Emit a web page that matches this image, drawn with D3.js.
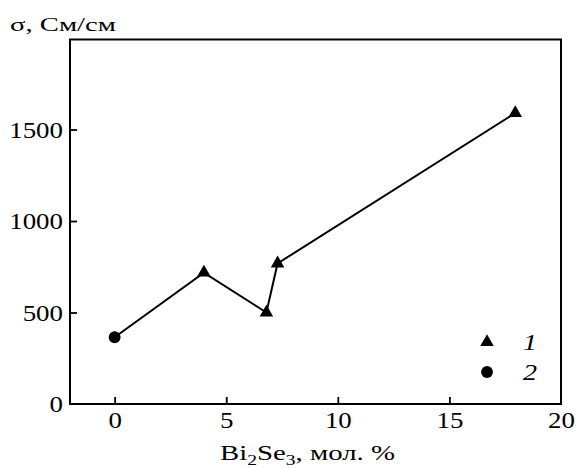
<!DOCTYPE html>
<html>
<head>
<meta charset="utf-8">
<script src="https://cdn.jsdelivr.net/npm/d3@7"></script>
</head>
<body style="margin:0;background:#fff">
<svg id="chart" width="579" height="468"></svg>
<script>
// Conductivity vs Bi2Se3 content
const xTicks = [0, 5, 10, 15, 20];
const yTicks = [0, 500, 1000, 1500];
const series1X = [4.0, 6.8, 7.3, 17.95];     // triangles
const series1Y = [718, 500, 768, 1590];
const series2X = [0];                        // circle
const series2Y = [365];
const legendLabels = ["1", "2"];

const FONT = "Liberation Serif";
const STRETCH = 1.17;                        // wide-set serif lettering
const svg = d3.select("#chart");
const margin = { left: 70, right: 18, top: 39.5, bottom: 64 };
const W = 579, H = 468;

const x = d3.scaleLinear().domain([-2, 20]).range([margin.left, W - margin.right]);
const y = d3.scaleLinear().domain([0, 1992]).range([H - margin.bottom, margin.top]);

// frame
svg.append("rect")
  .attr("x", x(-2)).attr("y", y(1992))
  .attr("width", x(20) - x(-2)).attr("height", y(0) - y(1992))
  .attr("fill", "none").attr("stroke", "#000").attr("stroke-width", 2);

// axes with inward ticks
const xAxis = d3.axisBottom(x).tickValues(xTicks).tickSize(-7).tickFormat(d3.format("d"));
const gx = svg.append("g").attr("transform", `translate(0,${y(0)})`).call(xAxis)
  .attr("font-family", FONT).attr("font-size", 23);
gx.select(".domain").remove();
gx.selectAll(".tick line").attr("stroke", "#000").attr("stroke-width", 1.8);
gx.selectAll(".tick").filter(d => d === 20).select("line").remove();
gx.selectAll("text")
  .attr("fill", "#000").attr("font-family", FONT)
  .attr("y", 24).attr("dy", null)
  .attr("transform", `scale(${STRETCH},1)`);

const yAxis = d3.axisLeft(y).tickValues(yTicks).tickSize(-7).tickFormat(d3.format("d"));
const gy = svg.append("g").attr("transform", `translate(${x(-2)},0)`).call(yAxis)
  .attr("font-family", FONT).attr("font-size", 23);
gy.select(".domain").remove();
gy.selectAll(".tick line").attr("stroke", "#000").attr("stroke-width", 1.8);
gy.selectAll(".tick").filter(d => d === 0).select("line").remove();
gy.selectAll("text")
  .attr("fill", "#000").attr("font-family", FONT)
  .attr("x", -7 / STRETCH).attr("dy", "0.33em")
  .attr("transform", `scale(${STRETCH},1)`);

// connecting line: circle point then triangle series
const linePts = series2X.map((d, i) => [d, series2Y[i]])
  .concat(series1X.map((d, i) => [d, series1Y[i]]));
svg.append("path")
  .datum(linePts)
  .attr("d", d3.line().x(d => x(d[0])).y(d => y(d[1])))
  .attr("fill", "none").attr("stroke", "#000").attr("stroke-width", 2);

const tri = d3.symbol().type(d3.symbolTriangle).size(80);
const circ = d3.symbol().type(d3.symbolCircle).size(110);

svg.append("g").selectAll("path")
  .data(series1X.map((d, i) => [d, series1Y[i]]))
  .join("path")
  .attr("d", tri)
  .attr("transform", d => `translate(${x(d[0])},${y(d[1])})`)
  .attr("fill", "#000");

svg.append("g").selectAll("path")
  .data(series2X.map((d, i) => [d, series2Y[i]]))
  .join("path")
  .attr("d", circ)
  .attr("transform", d => `translate(${x(d[0])},${y(d[1])})`)
  .attr("fill", "#000");

// legend
const legend = svg.append("g").attr("transform", "translate(487,342)");
legend.append("path").attr("d", tri).attr("fill", "#000");
legend.append("path").attr("d", circ).attr("transform", "translate(0,30)").attr("fill", "#000");
legend.selectAll("text").data(legendLabels).join("text")
  .attr("x", 36 / STRETCH).attr("y", (d, i) => i * 30 + 8)
  .attr("transform", `scale(${STRETCH},1)`)
  .attr("font-family", FONT).attr("font-size", 24).attr("font-style", "italic")
  .text(d => d);

// axis titles
svg.append("text").attr("x", 10).attr("y", 30.5)
  .attr("font-family", FONT).attr("font-size", 19)
  .attr("textLength", 106).attr("lengthAdjust", "spacingAndGlyphs")
  .text("σ, См/см");

const xt = svg.append("text").attr("x", 220).attr("y", 460)
  .attr("font-family", FONT).attr("font-size", 22)
  .attr("textLength", 175).attr("lengthAdjust", "spacingAndGlyphs");
xt.append("tspan").text("Bi");
xt.append("tspan").attr("font-size", 15).attr("dy", 5).text("2");
xt.append("tspan").attr("dy", -5).text("Se");
xt.append("tspan").attr("font-size", 15).attr("dy", 5).text("3");
xt.append("tspan").attr("dy", -5).text(", мол. %");
</script>
</body>
</html>
